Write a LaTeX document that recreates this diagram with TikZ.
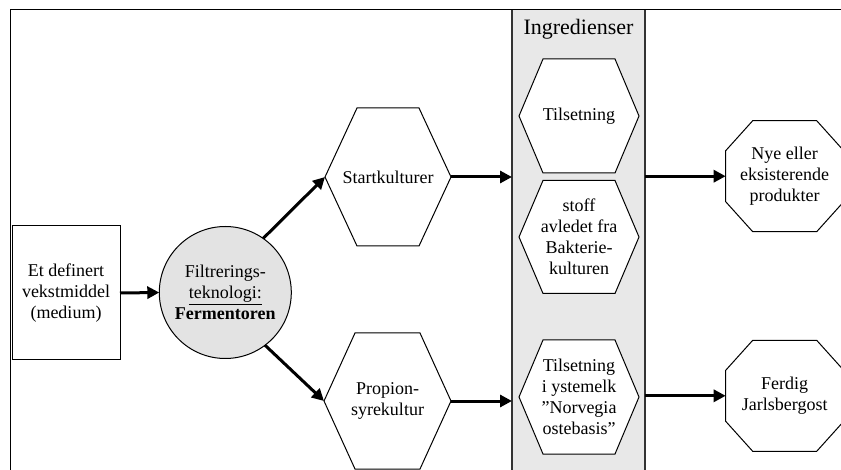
\documentclass[tikz,border=0pt]{standalone}
\usepackage{fontspec}
\setmainfont{Liberation Serif}
\usetikzlibrary{arrows.meta,backgrounds}
\pgfdeclarelayer{back}
\pgfsetlayers{back,background,main}
\definecolor{panelgray}{gray}{0.91}
\definecolor{circlegray}{gray}{0.89}
% hexagon round a node: name, inset
\newcommand\hexframe[2]{\begin{pgfonlayer}{background}\filldraw[thinline,fill=white] (#1.west) -- ([xshift=#2]#1.north west) -- ([xshift=-#2]#1.north east) -- (#1.east) -- ([xshift=-#2]#1.south east) -- ([xshift=#2]#1.south west) -- cycle;\end{pgfonlayer}}
% octagon round a node: name, dx, dy
\newcommand\octframe[3]{\draw[thinline] ([yshift=#3]#1.south west) -- ([yshift=-#3]#1.north west) -- ([xshift=#2]#1.north west) -- ([xshift=-#2]#1.north east) -- ([yshift=-#3]#1.north east) -- ([yshift=#3]#1.south east) -- ([xshift=-#2]#1.south east) -- ([xshift=#2]#1.south west) -- cycle;}
\begin{document}
\begin{tikzpicture}[x=1pt,y=-1pt,font=\fontsize{18}{21}\selectfont,
  txt/.style={align=center,inner sep=0pt,outer sep=0pt},
  thinline/.style={line width=1pt},
  arr/.style={line width=3pt,-{Triangle[length=12pt,width=12pt]}}]
\useasboundingbox (0,0) rectangle (841,470);
\clip (0,0) rectangle (841,470);

% panel:
\begin{pgfonlayer}{back}
\node[txt,draw=black!80,line width=1.3pt,fill=panelgray,minimum width=133pt,minimum height=480pt,anchor=north west] (ingr) at (512,9.5) {};
\end{pgfonlayer}
\node[txt,font=\fontsize{22}{26}\selectfont] (ingrlabel) at (578.5,29) {Ingredienser};

% frame:
\draw[line width=1.6pt] (10.5,480) -- (10.5,9.5) -- (860,9.5);

% medium:
\node[txt,draw,line width=1pt,minimum width=108pt,minimum height=134pt] (medium) at (66,293) {Et definert\\vekstmiddel\\(medium)};

% fermentor:
\node[txt,circle,draw,line width=1pt,fill=circlegray,minimum size=132pt] (ferm) at (225.3,292.5) {Filtrerings-\\\underline{teknologi:}\\\textbf{Fermentoren}};

% cultures:
\node[txt,minimum width=126pt,minimum height=138pt] (start) at (388,177) {Startkulturer};
\hexframe{start}{32}
\node[txt,minimum width=127pt,minimum height=136pt] (prop) at (387.5,401) {Propion-\\syrekultur};
\hexframe{prop}{31}

% ingredients:
\node[txt,minimum width=120pt,minimum height=114pt] (tils) at (579,116) {Tilsetning};
\hexframe{tils}{24}
\node[txt,minimum width=120pt,minimum height=113pt] (stoff) at (579,237) {stoff\\avledet fra\\Bakterie-\\kulturen};
\hexframe{stoff}{24}
\node[txt,minimum width=120pt,minimum height=114pt] (yste) at (579,397) {Tilsetning\\i ystemelk\\”Norvegia\\ostebasis”};
\hexframe{yste}{24}

% products:
\node[txt,minimum width=118pt,minimum height=111pt] (nye) at (784.7,176.2) {Nye eller\\eksisterende\\produkter};
\octframe{nye}{27}{30}
\node[txt,minimum width=118pt,minimum height=111pt] (ferdig) at (784.7,395.8) {Ferdig\\Jarlsbergost};
\octframe{ferdig}{27}{30}

% arrows:
\draw[arr] (medium.east) -- (ferm.west);
\draw[arr] (ferm.55) -- (start.west);
\draw[arr] (ferm.-53) -- (prop.west);
\draw[arr] (start.east) -- (start.east -| ingr.west);
\draw[arr] (prop.east) -- (prop.east -| ingr.west);
\draw[arr] (nye.west -| ingr.east) -- (nye.west);
\draw[arr] (ferdig.west -| ingr.east) -- (ferdig.west);
\end{tikzpicture}
\end{document}
